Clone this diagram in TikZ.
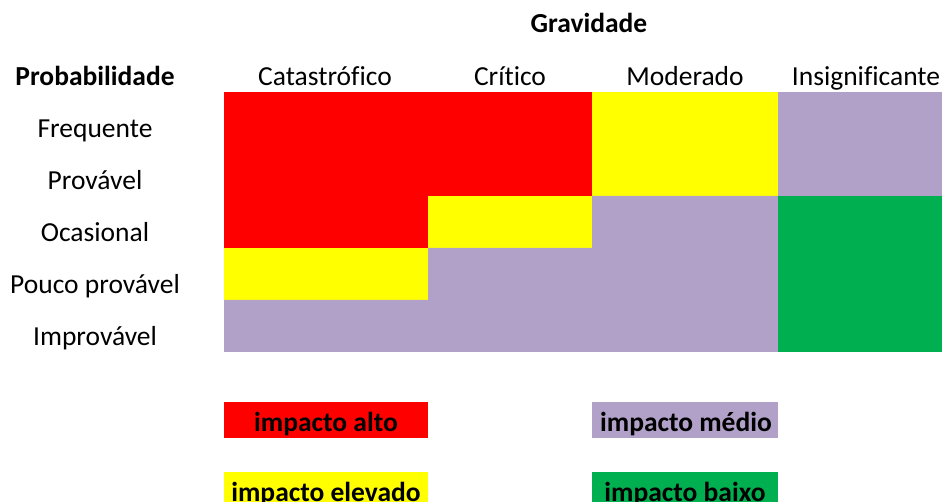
\documentclass[tikz,border=0pt]{standalone}
\usepackage{fontspec}
\setmainfont{Carlito}[Ligatures={NoCommon,NoContextual}]
\definecolor{cred}{HTML}{FF0000}
\definecolor{cyel}{HTML}{FFFF00}
\definecolor{cpur}{HTML}{B1A0C7}
\definecolor{cgrn}{HTML}{00B050}
\begin{document}
\begin{tikzpicture}[x=1pt,y=-1pt,
  lbl/.style={inner sep=0pt,anchor=base,font=\fontsize{27.5}{33}\selectfont},
  blbl/.style={lbl,font=\fontsize{27.5}{33}\selectfont\bfseries}]
\useasboundingbox (0,0) rectangle (942,502);
\clip (0,0) rectangle (942,502);
% matrix cells
\fill[cred] (224,92) rectangle (592,196);
\fill[cred] (224,196) rectangle (428,248);
\fill[cyel] (592,92) rectangle (778,196);
\fill[cyel] (428,196) rectangle (592,248);
\fill[cyel] (224,248) rectangle (428,300);
\fill[cpur] (778,92) rectangle (942,196);
\fill[cpur] (592,196) -- (778,196) -- (778,352) -- (224,352) -- (224,300) -- (428,300) -- (428,248) -- (592,248) -- cycle;
\fill[cgrn] (778,196) rectangle (942,352);
% headers
\node[blbl] (grav) at (589,33) {Gravidade};
\node[blbl] (prob) at (95,86) {Probabilidade};
\node[lbl] (c1) at (325,86) {Catastrófico};
\node[lbl] (c2) at (510,86) {Crítico};
\node[lbl] (c3) at (685,86) {Moderado};
\node[lbl] (c4) at (866,86) {Insignificante};
\node[lbl] (r1) at (95,138) {Frequente};
\node[lbl] (r2) at (95,190) {Provável};
\node[lbl] (r3) at (95,242) {Ocasional};
\node[lbl] (r4) at (95,294) {Pouco provável};
\node[lbl] (r5) at (95,346) {Improvável};
% legend
\fill[cred] (224,402) rectangle (428,438);
\fill[cpur] (592,402) rectangle (778,438);
\fill[cyel] (224,472) rectangle (428,510);
\fill[cgrn] (592,472) rectangle (778,510);
\node[blbl] (l1) at (326,431) {impacto alto};
\node[blbl] (l2) at (686,431) {impacto médio};
\node[blbl] (l3) at (326,501) {impacto elevado};
\node[blbl] (l4) at (685,501) {impacto baixo};
\end{tikzpicture}
\end{document}
